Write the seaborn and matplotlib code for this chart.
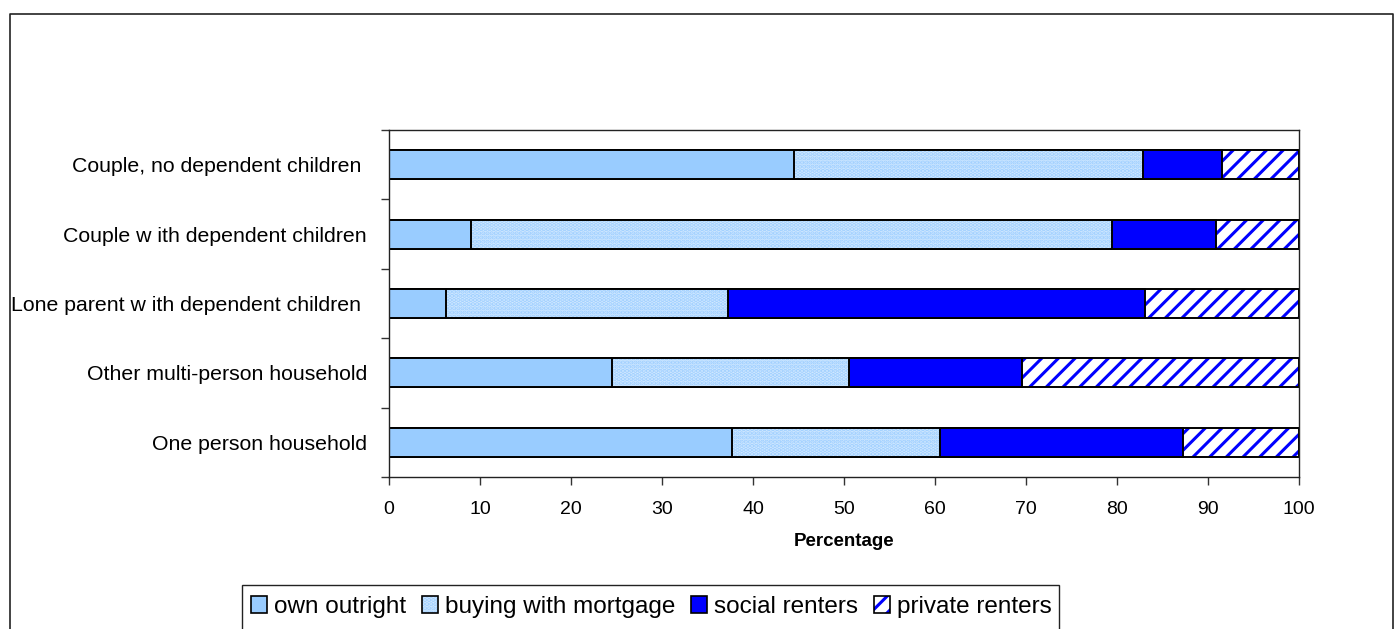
import matplotlib
matplotlib.use("Agg")
import matplotlib.pyplot as plt
from matplotlib.lines import Line2D
from matplotlib.patches import Rectangle, Patch
import numpy as np
import seaborn as sns

# household types, top to bottom
categories = [
    "Couple, no dependent children ",
    "Couple w ith dependent children",
    "Lone parent w ith dependent children ",
    "Other multi-person household",
    "One person household",
]
tenures = ["own outright", "buying with mortgage", "social renters", "private renters"]

# percentages
own_outright = [44.5, 9.0, 6.3, 24.5, 37.7]
buying_mortgage = [38.4, 70.4, 31.0, 26.0, 22.8]
social_renters = [8.6, 11.5, 45.8, 19.1, 26.8]
private_renters = [8.5, 9.1, 16.9, 30.4, 12.7]

sns.set_style("white")
plt.rcParams["font.family"] = ["Liberation Sans", "DejaVu Sans"]
plt.rcParams["hatch.linewidth"] = 2.2
for key in ["text.color", "axes.labelcolor", "xtick.labelcolor", "ytick.labelcolor"]:
    plt.rcParams[key] = "black"

fig = plt.figure(figsize=(13.94, 6.29), dpi=100)
ax = fig.add_axes([389 / 1394, 1 - 477 / 629, 910 / 1394, 347 / 629])

series = [own_outright, buying_mortgage, social_renters, private_renters]
cum = np.cumsum(np.array(series), axis=0)

# fill styles: (facecolor, hatch colour, hatch)
styles = [
    ("#99ccff", "#99ccff", None),
    ("#d0e8ff", "#9fcfff", "...."),
    ("#0000ff", "#0000ff", None),
    ("white", "#0000ff", "//"),
]

# draw cumulative totals from the longest down, so each segment shows
for i in range(3, -1, -1):
    face, hcol, hatch = styles[i]
    sns.barplot(x=cum[i], y=categories, orient="h", ax=ax, width=0.42,
                color=face, saturation=1, edgecolor=hcol, linewidth=0,
                hatch=hatch)
    sns.barplot(x=cum[i], y=categories, orient="h", ax=ax, width=0.42,
                facecolor="none", edgecolor="black", linewidth=1.4)

ax.set_xlim(0, 100)
ax.set_ylim(4.5, -0.5)
ax.set_xticks(range(0, 101, 10))
ax.set_yticks(np.arange(-0.5, 5, 1), minor=True)
ax.tick_params(axis="y", which="major", length=0, pad=16, labelsize=15.3,
               labelcolor="black")
ax.tick_params(axis="y", which="minor", length=6, width=1, color="#333333",
               direction="out", left=True)
ax.tick_params(axis="x", length=6, width=1, color="#333333", direction="out",
               bottom=True, labelsize=14, pad=11, labelcolor="black")
ax.set_ylabel("")
ax.set_xlabel("Percentage", fontsize=13.5, fontweight="bold", labelpad=11,
              color="black")
for s in ax.spines.values():
    s.set_visible(True)
    s.set_color("#222222")
    s.set_linewidth(1.0)

# outer chart border (open at the bottom)
W, H = 1394, 629
fig.add_artist(Line2D([10 / W, 10 / W, 1393 / W, 1393 / W],
                      [0, 1 - 14 / H, 1 - 14 / H, 0],
                      color="#222222", lw=1.2, transform=fig.transFigure))

# legend box, cut by the bottom edge
fig.add_artist(Rectangle((242 / W, -0.05), (1059 - 242) / W, 1 - 585 / H + 0.05,
                         transform=fig.transFigure, facecolor="white",
                         edgecolor="#222222", lw=1.0))
handles = []
for face, hcol, hatch in styles:
    fill = Patch(facecolor=face, edgecolor=hcol, hatch=hatch, lw=0)
    edge = Patch(facecolor="none", edgecolor="black", lw=1.2)
    handles.append((fill, edge))
leg = fig.legend(handles=handles, labels=tenures, loc="center left", ncol=4,
                 frameon=False, bbox_to_anchor=(251 / W, 1 - 607 / H),
                 fontsize=17.5, handlelength=0.65, handleheight=0.65,
                 handletextpad=0.3, columnspacing=0.65, borderaxespad=0,
                 borderpad=0, labelcolor="black")

fig.savefig("out.png", dpi=100)
